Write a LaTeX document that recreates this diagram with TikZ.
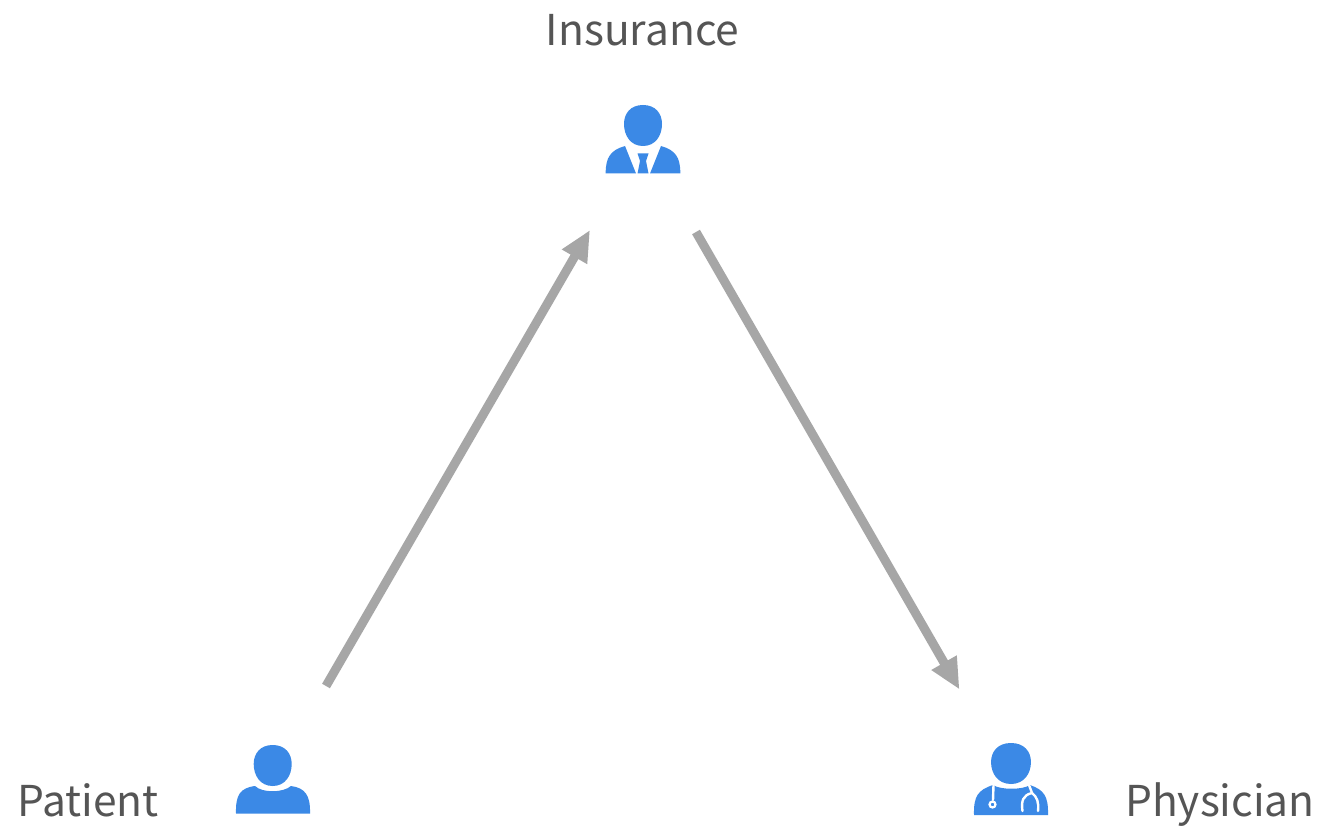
\documentclass[tikz,border=0pt]{standalone}
\usepackage{fontspec}
\setmainfont{Noto Sans CJK SC}
\usetikzlibrary{arrows.meta}
\definecolor{iconblue}{HTML}{3B89E6}
\definecolor{arrowgray}{HTML}{A6A6A6}
\definecolor{labelgray}{HTML}{555555}
\tikzset{
  x=1pt,y=-1pt,
  lbl/.style={font=\fontsize{42.5}{50}\selectfont,text=labelgray,inner sep=0pt},
  conn/.style={draw=arrowgray,line width=9pt,-{Triangle[length=31pt,width=27pt]}},
  iconfill/.style={fill=iconblue,draw=none},
  cutline/.style={draw=white,line width=2.4pt,line cap=round},
  pics/headshape/.style={code={
    \fill[iconfill] (0,-20.5) .. controls (12.5,-20.5) and (19,-12) .. (19,-1.5)
      .. controls (19,10) and (12.5,20.5) .. (0,20.5)
      .. controls (-12.5,20.5) and (-19,10) .. (-19,-1.5)
      .. controls (-19,-12) and (-12.5,-20.5) .. (0,-20.5) -- cycle;
  }}
}
\begin{document}
\begin{tikzpicture}
\useasboundingbox (0,0) rectangle (1320,826);
\fill[white] (0,0) rectangle (1320,826);
% labels
\node[lbl,anchor=base] (ins) at (642.5,46) {Insurance};
\node[lbl,anchor=base west] (pat) at (17,816) {Patient};
\node[lbl,anchor=base west] (phy) at (1125,816) {Physician};
% insurance icon
\pic at (643,125.5) {headshape};
\fill[iconfill] (605.7,173.5) .. controls (605.5,157) and (611,150) .. (625,146) -- (636,173.5) -- cycle;
\fill[iconfill] (680.3,173.5) .. controls (680.5,157) and (675,150) .. (661,146) -- (650,173.5) -- cycle;
\fill[iconfill] (637.5,153.5) -- (648.5,153.5) -- (646,161) -- (648.5,173.5) -- (637.5,173.5) -- (640,161) -- cycle;
% patient icon
\pic at (272.7,765.5) {headshape};
\fill[iconfill] (236,813.5) .. controls (235.5,795) and (240,788) .. (255,786) .. controls (262,793) and (283,793) .. (291,786) .. controls (305,788) and (310.5,795) .. (310,813.5) -- cycle;
% physician icon
\pic[xscale=1.05] at (1011,763.5) {headshape};
\fill[iconfill] (974,815) .. controls (973.5,796) and (978,790) .. (993,785) .. controls (1000,790) and (1023,790) .. (1030,785) .. controls (1044,790) and (1048.5,796) .. (1048,815) -- cycle;
\draw[cutline] (993.5,785) -- (993,800);
\draw[cutline,fill=iconblue,line width=2.2pt] (992.5,804.5) circle [radius=3];
\draw[cutline] (1029,785) -- (1032,793) .. controls (1037,797) and (1039,802) .. (1038,811);
\draw[cutline] (1022.5,811) .. controls (1021,801) and (1023,795) .. (1032,793);
% connectors
\coordinate (a1) at (326,686);
\coordinate (a2) at (590,230);
\coordinate (b1) at (696,232);
\coordinate (b2) at (959.5,689.5);
\draw[conn] (a1) -- (a2);
\draw[conn] (b1) -- (b2);
\end{tikzpicture}
\end{document}
